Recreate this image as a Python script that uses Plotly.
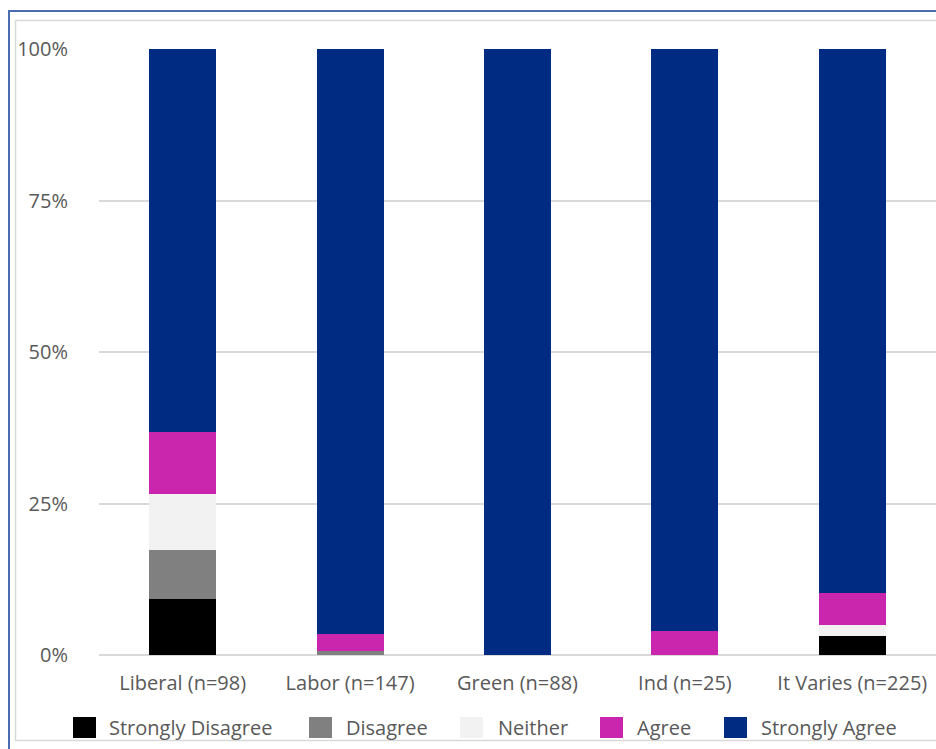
import plotly.graph_objects as go

categories = ["Liberal (n=98)", "Labor (n=147)", "Green (n=88)", "Ind (n=25)", "It Varies (n=225)"]
series_names = ["Strongly Disagree", "Disagree", "Neither", "Agree", "Strongly Agree"]
series_colors = ["#000000", "#808080", "#f2f2f2", "#c925ad", "#002b82"]
strongly_disagree = [0.092, 0.0, 0.0, 0.0, 0.031]
disagree = [0.082, 0.007, 0.0, 0.0, 0.0]
neither = [0.092, 0.0, 0.0, 0.0, 0.018]
agree = [0.102, 0.027, 0.0, 0.04, 0.053]
strongly_agree = [0.632, 0.966, 1.0, 0.96, 0.898]
series_values = [strongly_disagree, disagree, neither, agree, strongly_agree]
y_ticks = [0, 0.25, 0.5, 0.75, 1.0]
y_tick_labels = ["0%", "25%", "50%", "75%", "100%"]

# body margin is removed in the page, so the figure fills the window
W, H = 936, 749
PLOT_LEFT, PLOT_TOP, PLOT_BOTTOM = 99, 49, 655  # screen pixels
L, R, T = PLOT_LEFT, 0, PLOT_TOP
B = H - PLOT_BOTTOM
PW = W - L - R
PH = PLOT_BOTTOM - PLOT_TOP

def px_x(px):
    return (px - PLOT_LEFT) / PW

def px_y(py):
    return (PLOT_BOTTOM - py) / PH

fig = go.Figure()
for name, color, vals in zip(series_names, series_colors, series_values):
    fig.add_trace(go.Bar(
        x=categories, y=vals, name=name,
        marker=dict(color=color, line=dict(width=0)),
        showlegend=False,
    ))

FONT = "Open Sans"
TXT = "#595959"

shapes = []
annotations = []
leg_sq = [73, 309, 460, 600, 724]
leg_txt = [107, 344, 496, 635, 759]
for name, color, sx, tx in zip(series_names, series_colors, leg_sq, leg_txt):
    shapes.append(dict(type="rect", xref="paper", yref="paper",
                       x0=px_x(sx), x1=px_x(sx + 23), y0=px_y(738), y1=px_y(717),
                       fillcolor=color, line=dict(width=0), layer="above"))
    annotations.append(dict(xref="paper", yref="paper", x=px_x(tx), y=px_y(727),
                            text=name, showarrow=False, xanchor="left", yanchor="middle",
                            font=dict(family=FONT, size=20, color=TXT)))

# frame lines (screenshot chrome)
shapes.append(dict(type="line", xref="paper", yref="paper",
                   x0=px_x(15.5), x1=px_x(15.5), y0=px_y(20), y1=px_y(741),
                   line=dict(color="#d9d9d9", width=1.5)))
shapes.append(dict(type="line", xref="paper", yref="paper",
                   x0=px_x(15), x1=px_x(945), y0=px_y(20.5), y1=px_y(20.5),
                   line=dict(color="#d9d9d9", width=1.5)))
shapes.append(dict(type="line", xref="paper", yref="paper",
                   x0=px_x(15), x1=px_x(945), y0=px_y(740.5), y1=px_y(740.5),
                   line=dict(color="#d9d9d9", width=1.5)))
shapes.append(dict(type="line", xref="paper", yref="paper",
                   x0=px_x(9), x1=px_x(9), y0=px_y(10), y1=px_y(760),
                   line=dict(color="#4a6cb0", width=2)))
shapes.append(dict(type="line", xref="paper", yref="paper",
                   x0=px_x(8), x1=px_x(945), y0=px_y(11), y1=px_y(11),
                   line=dict(color="#4a6cb0", width=2)))

fig.update_layout(
    width=W, height=H,
    margin=dict(l=L, r=R, t=T, b=B, autoexpand=False),
    paper_bgcolor="white", plot_bgcolor="white",
    barmode="stack", bargap=0.6,
    showlegend=False,
    shapes=shapes, annotations=annotations,
    font=dict(family=FONT, size=20, color=TXT),
)
fig.update_xaxes(
    type="category", range=[-0.5, 4.5], showgrid=False, showline=False,
    ticks="", ticklabelstandoff=14,
    tickfont=dict(family=FONT, size=20, color=TXT),
)
fig.update_yaxes(
    range=[0, 1.0], tickvals=y_ticks, ticktext=y_tick_labels,
    showgrid=True, gridcolor="#d9d9d9", gridwidth=2,
    zeroline=True, zerolinecolor="#d9d9d9", zerolinewidth=2,
    showline=False, ticks="", ticklabelstandoff=30,
    tickfont=dict(family=FONT, size=20, color=TXT),
)

fig.write_html(
    "out.html",
    config={"displayModeBar": False},
    post_script=(
        "document.body.style.margin='0';"
        "document.documentElement.style.overflow='hidden';"
        "document.body.style.overflow='hidden';"
    ),
)
